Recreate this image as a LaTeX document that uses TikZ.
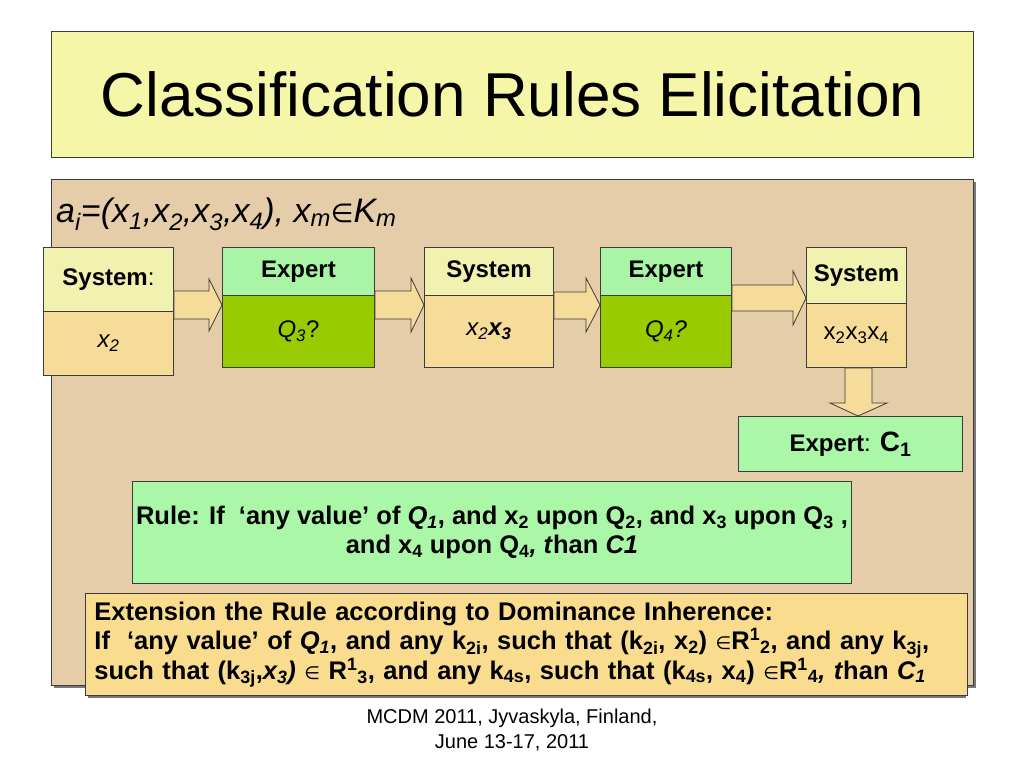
\documentclass[tikz,border=0pt]{standalone}
\usepackage{fontspec}
\setmainfont{Liberation Sans}
\newfontfamily\symf{DejaVu Sans}
\usetikzlibrary{calc}
\definecolor{titlefill}{RGB}{245,246,168}
\definecolor{tanfill}{RGB}{228,205,168}
\definecolor{syshead}{RGB}{242,242,176}
\definecolor{sysbody}{RGB}{246,219,153}
\definecolor{exphead}{RGB}{170,245,165}
\definecolor{expbody}{RGB}{153,204,0}
\definecolor{rulefill}{RGB}{170,247,168}
\definecolor{extfill}{RGB}{250,220,142}
\definecolor{arrowfill}{RGB}{246,220,155}
\definecolor{linec}{RGB}{60,60,60}
\definecolor{shadowc}{RGB}{120,120,120}
\newcommand{\fs}[1]{\fontsize{#1}{#1}\selectfont}
\begin{document}
\begin{tikzpicture}[x=1pt,y=1pt,
  box/.style={draw=linec, line width=0.9pt, inner sep=0pt, anchor=north west},
  barrow/.style={draw=linec, line width=0.8pt, fill=arrowfill, line join=miter},
  lbl/.style={font=\fs{24}}]
\useasboundingbox (0,0) rectangle (1024,-768);
\fill[white] (0,0) rectangle (1024,-768);
% title
\node[box, fill=titlefill, minimum width=922pt, minimum height=126pt, font=\fs{62}] (title) at (51,-31) {Classification Rules Elicitation};
% tan panel
\fill[shadowc] (54,-182) rectangle (976,-688);
\node[box, fill=tanfill, minimum width=922pt, minimum height=506pt] (panel) at (51,-179) {};
\node[anchor=base west, inner sep=0pt, font=\fs{34}] (formula) at (56,-222)
  {\textit{a\textsubscript{i}=(x\textsubscript{1},x\textsubscript{2},x\textsubscript{3},x\textsubscript{4}), x\textsubscript{m}}{\symf\fs{26}∈}\textit{K\textsubscript{m}}};
% box 1
\node[box, fill=syshead, minimum width=130pt, minimum height=64pt, lbl] (h1) at (43,-247) {\textbf{System}:};
\node[box, fill=sysbody, minimum width=130pt, minimum height=64pt, lbl] (b1) at (43,-311) {\textit{x\textsubscript{2}}};
% box 2
\node[box, fill=exphead, minimum width=152pt, minimum height=48pt, lbl] (h2) at (222,-247) {\textbf{Expert}};
\node[box, fill=expbody, minimum width=152pt, minimum height=72pt, lbl] (b2) at (222,-295) {\raisebox{5pt}{\textit{Q\textsubscript{3}}?}};
% box 3
\node[box, fill=syshead, minimum width=129pt, minimum height=48pt, lbl] (h3) at (424,-247) {\textbf{System}};
\node[box, fill=sysbody, minimum width=129pt, minimum height=72pt, lbl] (b3) at (424,-295) {\raisebox{5pt}{\textit{x\textsubscript{2}\textbf{x\textsubscript{3}}}}};
% box 4
\node[box, fill=exphead, minimum width=131pt, minimum height=48pt, lbl] (h4) at (600,-247) {\textbf{Expert}};
\node[box, fill=expbody, minimum width=131pt, minimum height=72pt, lbl] (b4) at (600,-295) {\raisebox{5pt}{\textit{Q\textsubscript{4}?}}};
% box 5
\node[box, fill=syshead, minimum width=100pt, minimum height=56pt, lbl] (h5) at (806,-247) {\textbf{System}};
\node[box, fill=sysbody, minimum width=100pt, minimum height=64pt, lbl] (b5) at (806,-303) {x\textsubscript{2}x\textsubscript{3}x\textsubscript{4}};
% expert C1
\node[box, fill=rulefill, minimum width=224pt, minimum height=55pt, lbl] (c1) at (738,-416) {\textbf{Expert}: {\bfseries\fs{28}C\textsubscript{1}}};
% block arrows
\draw[barrow] let \p1=(b1.north east), \p2=(h2.west) in
  (\x1,-291) -- (\x2-13pt,-291) -- (\x2-13pt,-279) -- (\x2,-305) -- (\x2-13pt,-331) -- (\x2-13pt,-319) -- (\x1,-319) -- cycle;
\draw[barrow] let \p1=(b2.north east), \p2=(h3.west) in
  (\x1,-291) -- (\x2-13pt,-291) -- (\x2-13pt,-278) -- (\x2,-305) -- (\x2-13pt,-332) -- (\x2-13pt,-319) -- (\x1,-319) -- cycle;
\draw[barrow] let \p1=(b3.north east), \p2=(h4.west) in
  (\x1,-292) -- (\x2-14pt,-292) -- (\x2-14pt,-278) -- (\x2,-305) -- (\x2-14pt,-332) -- (\x2-14pt,-319) -- (\x1,-319) -- cycle;
\draw[barrow] let \p1=(b4.north east), \p2=(h5.west) in
  (\x1,-285) -- (\x2-13pt,-285) -- (\x2-13pt,-271) -- (\x2,-298) -- (\x2-13pt,-325) -- (\x2-13pt,-311) -- (\x1,-311) -- cycle;
\draw[barrow] let \p1=(b5.south), \p2=(c1.north) in
  (845,\y1) -- (845,\y2+13pt) -- (830,\y2+13pt) -- (858,\y2) -- (887,\y2+13pt) -- (872,\y2+13pt) -- (872,\y1) -- cycle;
% rule box
\node[box, fill=rulefill, minimum width=719pt, minimum height=102pt, align=center, font=\bfseries\fontsize{25.5}{28.5}\selectfont] (rule) at (132,-481)
  {Rule: If\ \ ‘any value’ of \textit{Q\textsubscript{1}}, and x\textsubscript{2} upon Q\textsubscript{2}, and x\textsubscript{3} upon Q\textsubscript{3} ,\\
   and x\textsubscript{4} upon Q\textsubscript{4}\textit{, t}han \textit{C1}};
% extension box
\fill[shadowc] (88,-596) rectangle (966,-698);
\node[box, fill=extfill, minimum width=878pt, minimum height=102pt, text width=864pt, inner xsep=9pt, align=left, font=\bfseries\fontsize{25.5}{29.5}\selectfont] (ext) at (85,-593)
  {Extension the Rule according to Dominance Inherence:\\
   If\ \ ‘any value’ of \textit{Q\textsubscript{1}}, and any k\textsubscript{2i}, such that (k\textsubscript{2i}, x\textsubscript{2}) {\symf\mdseries\fs{18}∈}R\textsuperscript{1}\textsubscript{2}, and any k\textsubscript{3j},\\
   such that (k\textsubscript{3j},\textit{x\textsubscript{3})} {\symf\mdseries\fs{18}∈} R\textsuperscript{1}\textsubscript{3}, and any k\textsubscript{4s}, such that (k\textsubscript{4s}, x\textsubscript{4}) {\symf\mdseries\fs{18}∈}R\textsuperscript{1}\textsubscript{4}\textit{, t}han \textit{C\textsubscript{1}}};
% footer
\node[align=center, inner sep=0pt, font=\fontsize{20}{25}\selectfont] (foot) at (512,-730)
  {MCDM 2011, Jyvaskyla, Finland,\\ June 13-17, 2011};
\end{tikzpicture}
\end{document}
